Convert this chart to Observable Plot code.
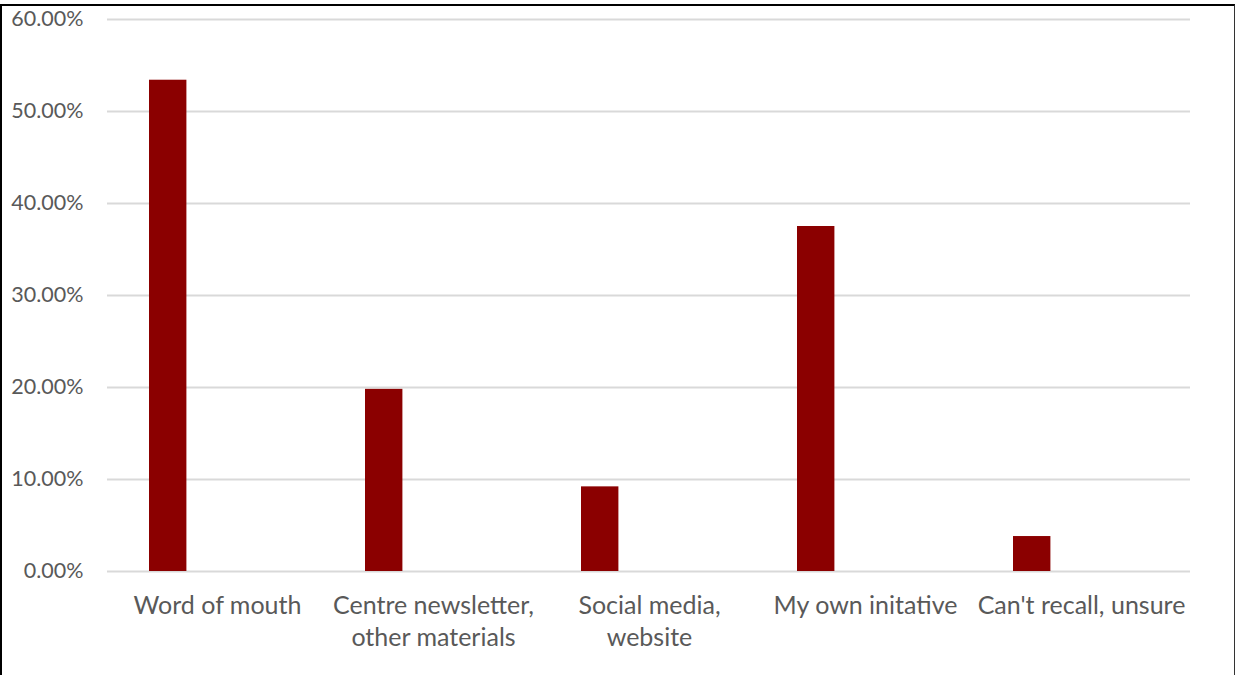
<!DOCTYPE html>
<html>
<head>
<meta charset="utf-8">
<script src="https://cdn.jsdelivr.net/npm/d3@7"></script>
<script src="https://cdn.jsdelivr.net/npm/@observablehq/plot@0.6"></script>
<style>
  html, body { margin: 0; padding: 0; background: #fff; }
  #wrap { position: relative; width: 1236px; height: 675px; overflow: hidden; }
  #frame { position: absolute; left: 0; top: 4px; width: 1232px; height: 700px;
           border-left: 2px solid #000; border-top: 2px solid #000; border-right: 1px solid #333;
           pointer-events: none; }
</style>
</head>
<body>
<div id="wrap"><div id="chart"></div><div id="frame"></div></div>
<script>
const categories = ["Word of mouth", "Centre newsletter, other materials", "Social media, website", "My own initative", "Can't recall, unsure"];
const tickLabels = ["Word of mouth", "Centre newsletter,\nother materials", "Social media,\nwebsite", "My own initative", "Can't recall, unsure"];
const values = [53.4, 19.8, 9.2, 37.5, 3.8];
const yTicks = [0, 10, 20, 30, 40, 50, 60];

const data = categories.map((c, i) => ({category: c, value: values[i]}));
const labelOf = new Map(categories.map((c, i) => [c, tickLabels[i]]));

const chart = Plot.plot({
  width: 1236,
  height: 675,
  marginLeft: 107,
  marginRight: 46,
  marginTop: 19,
  marginBottom: 104,
  style: {fontFamily: "Lato, sans-serif", fontSize: "22px", color: "#595959", background: "#fff"},
  x: {domain: categories, padding: 0, label: null},
  y: {domain: [0, 60], label: null},
  marks: [
    Plot.ruleY(yTicks, {stroke: "#d9d9d9", strokeWidth: 2}),
    Plot.barY(data, {x: "category", y: "value", fill: "#8b0000", insetLeft: 40, insetRight: 138.6}),
    Plot.axisY(yTicks, {tickSize: 0, tickPadding: 24, tickFormat: d => d.toFixed(2) + "%", fill: "#595959", fontSize: 21.5}),
    Plot.axisX({tickSize: 0, tickPadding: 20, tickFormat: d => labelOf.get(d), fill: "#595959", fontSize: 25, lineHeight: 1.28, lineAnchor: "top"})
  ]
});
document.getElementById("chart").appendChild(chart);
</script>
</body>
</html>
